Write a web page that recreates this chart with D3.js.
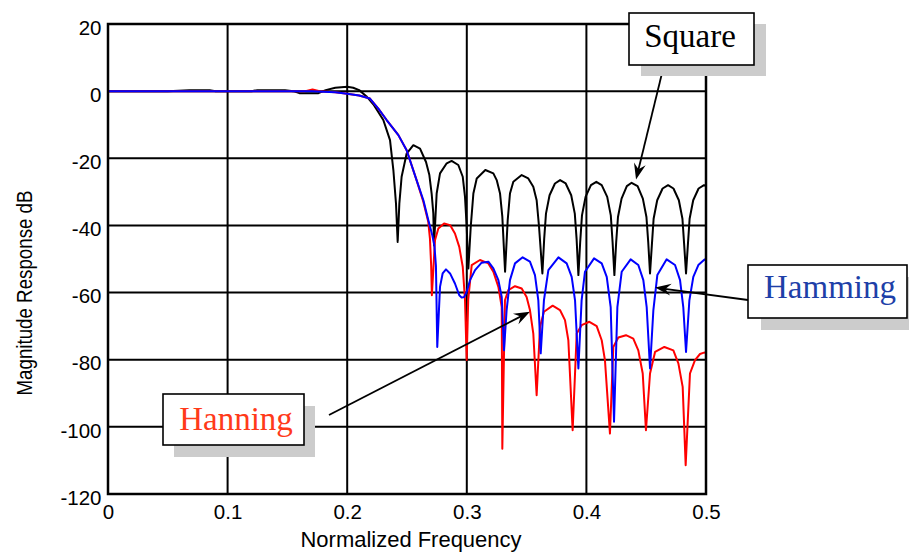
<!DOCTYPE html>
<html><head><meta charset="utf-8">
<script src="https://cdn.jsdelivr.net/npm/d3@7"></script>
<style>body{margin:0;background:#fff}svg{display:block}</style>
</head><body><svg id="c" width="909" height="552"></svg>
<script>
// ---- data ----
const xTicks = [0, 0.1, 0.2, 0.3, 0.4, 0.5];
const xTickLabels = ["0", "0.1", "0.2", "0.3", "0.4", "0.5"];
const yTicks = [-120, -100, -80, -60, -40, -20, 0, 20];
const yTickLabels = ["-120", "-100", "-80", "-60", "-40", "-20", "0", "20"];
const xLabel = "Normalized Frequency";
const yLabel = "Magnitude Response dB";

// [normalized frequency, dB]
const square = [
  [0,0],[0.05,0],[0.068,0.3],[0.072,0.3],[0.085,0.3],[0.09,0],[0.12,0],[0.125,0.3],[0.148,0.3],[0.155,0],
  [0.16,-0.6],[0.176,-0.6],[0.182,0.3],[0.19,1.0],[0.2,1.3],[0.205,1.0],[0.21,0.3],[0.216,-1.5],[0.222,-4],
  [0.2302,-8.6],[0.2358,-14.6],[0.2386,-23.5],[0.2408,-33.5],[0.2422,-44.9],[0.2436,-33.5],[0.2455,-25.5],
  [0.2497,-18.6],[0.2553,-16.1],[0.2609,-17.1],[0.2659,-21.1],[0.2687,-25.0],[0.2706,-30.5],[0.272,-36.4],
  [0.2726,-46],[0.2748,-30.5],[0.2776,-24.5],[0.2832,-21.5],[0.2873,-20.8],[0.2929,-22.0],[0.2966,-25.5],
  [0.2985,-31.5],[0.2999,-40.4],[0.3013,-52.8],[0.3033,-40.4],[0.3055,-30.5],[0.3083,-26.0],[0.3155,-23.5],
  [0.3222,-24.5],[0.325,-26.5],[0.3278,-30.5],[0.3297,-37.4],[0.332,-53.8],[0.3342,-38.4],[0.3361,-30.5],
  [0.3389,-27.0],[0.3459,-25.0],[0.3514,-26.0],[0.3556,-28.5],[0.3584,-32.5],[0.3604,-40.4],[0.3632,-54.3],
  [0.3647,-44],[0.3662,-36.5],[0.3692,-31],[0.3737,-27.5],[0.378,-26.5],[0.3827,-27.5],[0.3873,-31],[0.3903,-36.5],[0.3918,-44],[0.3933,-54.8],
  [0.3948,-45],[0.3963,-37],[0.3993,-31.5],[0.4038,-28],[0.4083,-27],[0.4128,-28],[0.4174,-31.5],[0.4204,-37],[0.4219,-45],[0.4234,-54.8],
  [0.4249,-45],[0.4264,-37.5],[0.4294,-32],[0.4338,-28.3],[0.4378,-27.3],[0.4428,-28.3],[0.4472,-32],[0.4502,-37.5],[0.4517,-45],[0.4532,-54.3],
  [0.4547,-46],[0.4562,-38],[0.4592,-32.5],[0.4637,-29],[0.4683,-28],[0.4728,-29],[0.4773,-32.5],[0.4803,-38],[0.4818,-46],[0.4833,-54.3],
  [0.4848,-46],[0.4863,-38],[0.4893,-32.5],[0.4938,-29],[0.4983,-28],[0.5,-28.1]
];
const hanning = [
  [0,0],[0.1,0],[0.165,0],[0.171,0.5],[0.177,0],[0.19,-0.3],[0.2,-0.8],[0.21,-1.3],[0.219,-2.2],[0.226,-5.2],
  [0.233,-8.6],[0.2428,-13.1],[0.2497,-17.6],[0.258,-26.5],[0.2637,-33],[0.2678,-39],[0.2692,-44],[0.2702,-52],
  [0.2708,-60.8],[0.2734,-44.4],[0.2762,-40.9],[0.281,-39.4],[0.286,-39.9],[0.2901,-42.4],[0.2937,-46.4],
  [0.2966,-52.3],[0.2985,-62.3],[0.2999,-80.1],[0.3012,-62],[0.3041,-51.8],[0.311,-50.3],[0.318,-51.3],
  [0.3222,-53.8],[0.3264,-58.3],[0.3292,-64.3],[0.3297,-106.5],[0.3319,-62.3],[0.3347,-59.3],[0.3403,-58.1],
  [0.3459,-58.8],[0.35,-61.3],[0.3528,-65.2],[0.3556,-72.2],[0.3584,-90.6],[0.3612,-70.2],[0.3645,-65.7],
  [0.3718,-63.9],[0.3779,-65.2],[0.3821,-68.2],[0.3849,-74.2],[0.3885,-101],[0.3919,-72.2],[0.396,-69.7],
  [0.4025,-68.7],[0.4086,-70],[0.4128,-74.2],[0.4155,-80.1],[0.4197,-102],[0.4225,-76.2],[0.4267,-73.4],
  [0.4331,-72.7],[0.4392,-73.7],[0.4434,-77.2],[0.4471,-84.1],[0.4498,-101],[0.4532,-84.1],[0.4574,-77.7],
  [0.4652,-76.2],[0.4727,-77.2],[0.4769,-81.1],[0.4805,-88.1],[0.483,-111.4],[0.4866,-84.1],[0.4908,-80.1],
  [0.495,-78.3],[0.4983,-77.9],[0.5,-77.8]
];
const hamming = [
  [0,0],[0.1,0],[0.17,0],[0.19,-0.3],[0.2,-0.8],[0.21,-1.3],[0.219,-2.2],[0.226,-5.2],[0.233,-8.6],
  [0.2428,-13.1],[0.2497,-17.6],[0.258,-26.5],[0.2637,-32.5],[0.2678,-38.4],[0.2712,-43],[0.2729,-46],
  [0.2742,-52],[0.2753,-76.2],[0.2776,-58.3],[0.2798,-54.3],[0.2826,-53.1],[0.286,-54.3],[0.2901,-57.3],
  [0.2937,-60.8],[0.2957,-61.5],[0.2979,-61.3],[0.2999,-59.8],[0.3027,-56.3],[0.3069,-53.3],[0.3124,-51.1],
  [0.318,-50.8],[0.3222,-52.8],[0.3264,-56.3],[0.3292,-61.3],[0.3311,-77.2],[0.3333,-65.2],[0.3361,-56.3],
  [0.3403,-51.3],[0.3467,-49.5],[0.3528,-50.8],[0.357,-54.8],[0.3598,-62.3],[0.3618,-78.1],[0.3645,-62.3],
  [0.3682,-53.3],[0.3766,-49.5],[0.3835,-51.3],[0.3877,-55.3],[0.3905,-62.3],[0.3933,-82.6],[0.396,-62.3],
  [0.3988,-53.8],[0.4064,-49.8],[0.4128,-51.3],[0.417,-55.3],[0.4203,-64.3],[0.4231,-98.5],[0.4259,-64.3],
  [0.4295,-53.8],[0.437,-50.1],[0.4434,-51.8],[0.4476,-56.3],[0.4504,-64.3],[0.4532,-82.6],[0.456,-65.2],
  [0.4593,-54.8],[0.4671,-50.1],[0.4741,-51.8],[0.4783,-56.3],[0.481,-64.3],[0.4833,-77.7],[0.4861,-62.3],
  [0.4894,-55.3],[0.4936,-51.8],[0.4983,-50.3],[0.5,-50]
];
const seriesNames = ["Square", "Hanning", "Hamming"];
const seriesColors = ["#000000", "#ff0000", "#0000ff"];
const labelColors = ["#000000", "#ff3a1a", "#1e3fa8"];
// annotation arrow targets in data units [freq, dB]
const arrowTargets = [[0.4415, -26.3], [0.3528, -65.7], [0.4574, -58.5]];

// ---- layout ----
const svg = d3.select("#c");
const P = {l: 108, r: 706, t: 24, b: 494};
const x = d3.scaleLinear().domain([0, 0.5]).range([P.l, P.r]);
const y = d3.scaleLinear().domain([-120, 20]).range([P.b, P.t]);

svg.append("rect").attr("width", 909).attr("height", 552).attr("fill", "#fff");

// grid
const grid = svg.append("g").attr("stroke", "#000").attr("stroke-width", 2);
grid.selectAll("line.v").data(xTicks.slice(1, -1)).join("line").attr("class", "v")
  .attr("x1", d => x(d)).attr("x2", d => x(d)).attr("y1", P.t).attr("y2", P.b);
grid.selectAll("line.h").data(yTicks.slice(1, -1)).join("line").attr("class", "h")
  .attr("y1", d => y(d)).attr("y2", d => y(d)).attr("x1", P.l).attr("x2", P.r);

// axes
const xAxis = svg.append("g").attr("transform", `translate(0,${P.b})`)
  .call(d3.axisBottom(x).tickValues(xTicks).tickFormat((d, i) => xTickLabels[i]).tickSize(0).tickPadding(10));
const yAxis = svg.append("g").attr("transform", `translate(${P.l},0)`)
  .call(d3.axisLeft(y).tickValues(yTicks).tickFormat((d, i) => yTickLabels[i]).tickSize(0).tickPadding(6.5));
[xAxis, yAxis].forEach(g => {
  g.select(".domain").remove();
  g.selectAll("text").attr("font-family", "'Liberation Sans', Arial, sans-serif")
    .attr("font-size", 20.5).attr("fill", "#000");
});
yAxis.selectAll("text").attr("dy", "0.5em");

// clip
svg.append("clipPath").attr("id", "clip").append("rect")
  .attr("x", P.l).attr("y", P.t).attr("width", P.r - P.l).attr("height", P.b - P.t);

const line = d3.line().x(d => x(d[0])).y(d => y(d[1]));
const series = [square, hanning, hamming];
const lines = svg.append("g").attr("clip-path", "url(#clip)");
series.forEach((s, i) => {
  lines.append("path").datum(s).attr("d", line).attr("fill", "none")
    .attr("stroke", seriesColors[i]).attr("stroke-width", 2).attr("stroke-linejoin", "round");
});

// border
svg.append("rect").attr("x", P.l).attr("y", P.t).attr("width", P.r - P.l).attr("height", P.b - P.t)
  .attr("fill", "none").attr("stroke", "#000").attr("stroke-width", 2.5);

// axis labels
svg.append("text").attr("x", (P.l + P.r) / 2 + 4).attr("y", 547).attr("text-anchor", "middle")
  .attr("font-family", "'Liberation Sans', Arial, sans-serif").attr("font-size", 22)
  .attr("textLength", 221).attr("lengthAdjust", "spacingAndGlyphs").text(xLabel);
svg.append("text").attr("transform", "translate(32,293) rotate(-90)").attr("text-anchor", "middle")
  .attr("font-family", "'Liberation Sans', Arial, sans-serif").attr("font-size", 21.5)
  .attr("textLength", 205).attr("lengthAdjust", "spacingAndGlyphs").text(yLabel);

// annotations
const boxes = [
  {bx: 629, by: 13, w: 125, h: 52, sx: 12, sy: 11, ax: 664, ay: 65, tx: 690, ty: 47},
  {bx: 163, by: 394, w: 141, h: 51, sx: 11, sy: 12, ax: 329, ay: 415, tx: 236, ty: 430},
  {bx: 748, by: 265, w: 159, h: 53, sx: 13, sy: 12, ax: 748, ay: 300, tx: 830, ty: 298}
];
const ann = svg.append("g");
boxes.forEach((b, i) => {
  const tx = x(arrowTargets[i][0]), ty = y(arrowTargets[i][1]);
  const dx = tx - b.ax, dy = ty - b.ay, len = Math.hypot(dx, dy);
  const ux = dx / len, uy = dy / len, nx = -uy, ny = ux;
  const L = 16, W = 6;
  ann.append("line").attr("x1", b.ax).attr("y1", b.ay).attr("x2", tx - ux * 8).attr("y2", ty - uy * 8)
    .attr("stroke", "#000").attr("stroke-width", 1.8);
  ann.append("path").attr("d",
    `M${tx},${ty}L${tx - ux * L + nx * W},${ty - uy * L + ny * W}L${tx - ux * L * 0.65},${ty - uy * L * 0.65}L${tx - ux * L - nx * W},${ty - uy * L - ny * W}Z`)
    .attr("fill", "#000");
  ann.append("rect").attr("x", b.bx + b.sx).attr("y", b.by + b.sy).attr("width", b.w).attr("height", b.h)
    .attr("fill", "#cccccc");
  ann.append("rect").attr("x", b.bx).attr("y", b.by).attr("width", b.w).attr("height", b.h)
    .attr("fill", "#fff").attr("stroke", "#000").attr("stroke-width", 1.6);
  ann.append("text").attr("x", b.tx).attr("y", b.ty).attr("text-anchor", "middle")
    .attr("font-family", "'Liberation Serif', 'Times New Roman', serif").attr("font-size", 33)
    .attr("fill", labelColors[i]).text(seriesNames[i]);
});
</script></body></html>
